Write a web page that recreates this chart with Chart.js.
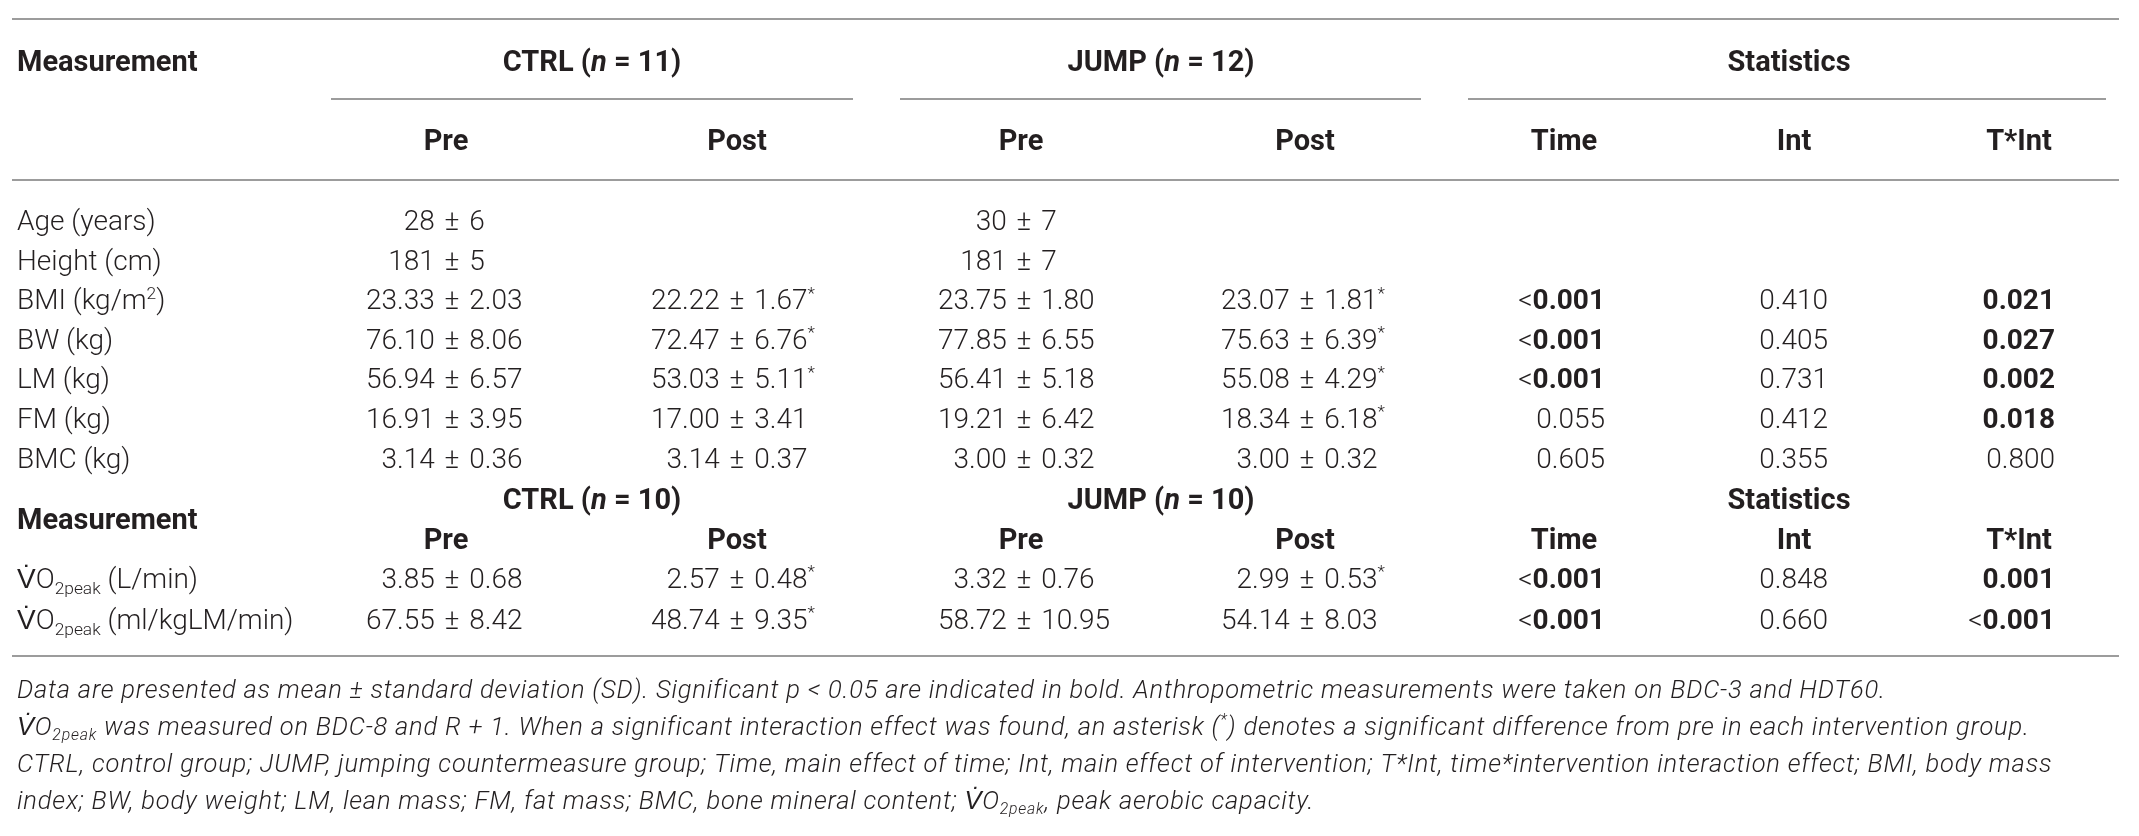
<!DOCTYPE html>
<html>
<head>
<meta charset="utf-8">
<script src="https://cdn.jsdelivr.net/npm/chart.js"></script>
<style>
  html, body { margin: 0; padding: 0; background: #fff; }
  #wrap { width: 2139px; height: 836px; }
</style>
</head>
<body>
<div id="wrap"><canvas id="table" width="2139" height="836"></canvas></div>
<script>
// Table contents (markup: {i:..} italic, {b:..} bold, {sub:..}, {sup:..})
const groupHeads1 = ['CTRL ({i:n} = 11)', 'JUMP ({i:n} = 12)', 'Statistics'];
const groupHeads2 = ['CTRL ({i:n} = 10)', 'JUMP ({i:n} = 10)', 'Statistics'];
const subHeads = ['Pre', 'Post', 'Pre', 'Post', 'Time', 'Int', 'T*Int'];

const rowLabels1 = ['Age (years)', 'Height (cm)', 'BMI (kg/m{sup:2})', 'BW (kg)', 'LM (kg)', 'FM (kg)', 'BMC (kg)'];
const ctrlPre1 = ['28 ± 6', '181 ± 5', '23.33 ± 2.03', '76.10 ± 8.06', '56.94 ± 6.57', '16.91 ± 3.95', '3.14 ± 0.36'];
const ctrlPost1 = ['', '', '22.22 ± 1.67*', '72.47 ± 6.76*', '53.03 ± 5.11*', '17.00 ± 3.41', '3.14 ± 0.37'];
const jumpPre1 = ['30 ± 7', '181 ± 7', '23.75 ± 1.80', '77.85 ± 6.55', '56.41 ± 5.18', '19.21 ± 6.42', '3.00 ± 0.32'];
const jumpPost1 = ['', '', '23.07 ± 1.81*', '75.63 ± 6.39*', '55.08 ± 4.29*', '18.34 ± 6.18*', '3.00 ± 0.32'];
const time1 = ['', '', '<0.001', '<0.001', '<0.001', '0.055', '0.605'];
const time1Bold = [false, false, true, true, true, false, false];
const int1 = ['', '', '0.410', '0.405', '0.731', '0.412', '0.355'];
const int1Bold = [false, false, false, false, false, false, false];
const tInt1 = ['', '', '0.021', '0.027', '0.002', '0.018', '0.800'];
const tInt1Bold = [false, false, true, true, true, true, false];

const rowLabels2 = ['V\u0307O{sub:2peak} (L/min)', 'V\u0307O{sub:2peak} (ml/kgLM/min)'];
const ctrlPre2 = ['3.85 ± 0.68', '67.55 ± 8.42'];
const ctrlPost2 = ['2.57 ± 0.48*', '48.74 ± 9.35*'];
const jumpPre2 = ['3.32 ± 0.76', '58.72 ± 10.95'];
const jumpPost2 = ['2.99 ± 0.53*', '54.14 ± 8.03'];
const time2 = ['<0.001', '<0.001'];
const time2Bold = [true, true];
const int2 = ['0.848', '0.660'];
const int2Bold = [false, false];
const tInt2 = ['0.001', '<0.001'];
const tInt2Bold = [true, true];

const footnotes = [
    'Data are presented as mean ± standard deviation (SD). Significant p < 0.05 are indicated in bold. Anthropometric measurements were taken on BDC-3 and HDT60.',
    'V\u0307O{sub:2peak} was measured on BDC-8 and R + 1. When a significant interaction effect was found, an asterisk ({sup:*}) denotes a significant difference from pre in each intervention group.',
    'CTRL, control group; JUMP, jumping countermeasure group; Time, main effect of time; Int, main effect of intervention; T*Int, time*intervention interaction effect; BMI, body mass',
    'index; BW, body weight; LM, lean mass; FM, fat mass; BMC, bone mineral content; V\u0307O{sub:2peak}, peak aerobic capacity.'
];

// Layout (in scale units = page pixels)
const W = 2139, H = 836;
const layout = {
    left: 12, right: 2119, labelX: 17,
    pm: [452, 737, 1024, 1307],
    pmGap: 3,
    statRight: [1605, 1828, 2055],
    subHead: [446, 737, 1021, 1305, 1564, 1794, 2019],
    group: [592, 1161, 1789],
    groupLines: [[331, 853], [900, 1421], [1468, 2106]],
    yTopRule: 19, yHead: 61, yGroupLine: 99, ySub: 140, yHeadRule: 180,
    yRows1: 220, rowStep1: 39.6,
    yGroup2: 499, yMeas2: 519, ySub2: 539,
    yRows2: 578, rowStep2: 41,
    yBottomRule: 656,
    yFoot: 689, footStep: 37
};

const TEXT = '#231f20';
const RULE = '#9c9c9c';
const FAMILY = 'Roboto, "Liberation Sans", sans-serif';
const BODY = { family: FAMILY, size: 28, weight: 300, italic: false, spacing: 0 };
const HEAD = { family: FAMILY, size: 29, weight: 700, italic: false, spacing: 0 };
const FOOT = { family: FAMILY, size: 25.5, weight: 300, italic: true, spacing: 0.8 };

function parseRich(s) {
    const out = [];
    const re = /\{(i|b|sub|sup):([^}]*)\}/g;
    let last = 0, m;
    while ((m = re.exec(s))) {
        if (m.index > last) out.push({ t: s.slice(last, m.index), k: '' });
        out.push({ t: m[2], k: m[1] });
        last = re.lastIndex;
    }
    if (last < s.length) out.push({ t: s.slice(last), k: '' });
    return out;
}

function segStyle(seg, base) {
    let size = base.size, weight = base.weight, italic = base.italic, dy = 0;
    if (seg.k === 'i') italic = true;
    if (seg.k === 'b') weight = 700;
    if (seg.k === 'sub') { size = base.size * 0.62; dy = base.size * 0.2; }
    if (seg.k === 'sup') { size = base.size * 0.62; dy = -base.size * 0.38; }
    return { font: (italic ? 'italic ' : '') + weight + ' ' + size + 'px ' + base.family, dy: dy };
}

function setFont(ctx, st, base) {
    ctx.font = st.font;
    ctx.letterSpacing = (base.spacing || 0) + 'px';
}

function richWidth(ctx, s, base) {
    return parseRich(s).reduce((w, seg) => {
        setFont(ctx, segStyle(seg, base), base);
        return w + ctx.measureText(seg.t).width;
    }, 0);
}

// y is the visual middle of the line; converted to a baseline
function drawRich(ctx, s, x, y, base, align) {
    const segs = parseRich(s);
    const w = richWidth(ctx, s, base);
    let cx = align === 'center' ? x - w / 2 : align === 'right' ? x - w : x;
    const baseline = y + base.size * 0.36;
    ctx.textAlign = 'left';
    ctx.textBaseline = 'alphabetic';
    segs.forEach(seg => {
        const st = segStyle(seg, base);
        setFont(ctx, st, base);
        ctx.fillText(seg.t, cx, baseline + st.dy);
        cx += ctx.measureText(seg.t).width;
    });
    ctx.letterSpacing = '0px';
}

// mean ± sd, aligned on the ± sign
function drawValue(ctx, s, anchor, y, gap) {
    if (!s) return;
    const parts = s.split(' ± ');
    let right = parts[1];
    if (right.endsWith('*')) right = right.slice(0, -1) + '{sup:*}';
    ctx.font = BODY.weight + ' ' + BODY.size + 'px ' + BODY.family;
    const half = ctx.measureText('±').width / 2;
    drawRich(ctx, parts[0] + ' ', anchor - half - gap, y, BODY, 'right');
    drawRich(ctx, '±', anchor, y, BODY, 'center');
    drawRich(ctx, ' ' + right, anchor + half + gap, y, BODY, 'left');
}

function statMarkup(s, bold) {
    if (!s || !bold) return s;
    return s.replace(/[\d.]+/, m => '{b:' + m + '}');
}

function hline(ctx, x0, x1, y) {
    ctx.beginPath();
    ctx.moveTo(x0, y);
    ctx.lineTo(x1, y);
    ctx.stroke();
}

const tablePlugin = {
    id: 'tableDraw',
    afterDraw(chart) {
        const ctx = chart.ctx;
        const sx = v => chart.scales.x.getPixelForValue(v);
        const sy = v => chart.scales.y.getPixelForValue(v);
        const L = layout;
        ctx.save();
        ctx.fillStyle = TEXT;
        ctx.strokeStyle = RULE;
        ctx.lineWidth = 2;

        // rules
        hline(ctx, sx(L.left), sx(L.right), sy(L.yTopRule));
        L.groupLines.forEach(g => hline(ctx, sx(g[0]), sx(g[1]), sy(L.yGroupLine)));
        hline(ctx, sx(L.left), sx(L.right), sy(L.yHeadRule));
        hline(ctx, sx(L.left), sx(L.right), sy(L.yBottomRule));

        // first header block
        drawRich(ctx, 'Measurement', sx(L.labelX), sy(L.yHead), HEAD, 'left');
        groupHeads1.forEach((g, i) => drawRich(ctx, g, sx(L.group[i]), sy(L.yHead), HEAD, 'center'));
        subHeads.forEach((h, i) => drawRich(ctx, h, sx(L.subHead[i]), sy(L.ySub), HEAD, 'center'));

        // body block 1
        const valueCols1 = [ctrlPre1, ctrlPost1, jumpPre1, jumpPost1];
        const statCols1 = [[time1, time1Bold], [int1, int1Bold], [tInt1, tInt1Bold]];
        rowLabels1.forEach((lab, r) => {
            const y = sy(L.yRows1 + r * L.rowStep1);
            drawRich(ctx, lab, sx(L.labelX), y, BODY, 'left');
            valueCols1.forEach((col, c) => drawValue(ctx, col[r], sx(L.pm[c]), y, L.pmGap));
            statCols1.forEach((sc, c) => {
                if (sc[0][r]) drawRich(ctx, statMarkup(sc[0][r], sc[1][r]), sx(L.statRight[c]), y, BODY, 'right');
            });
        });

        // second header block
        groupHeads2.forEach((g, i) => drawRich(ctx, g, sx(L.group[i]), sy(L.yGroup2), HEAD, 'center'));
        drawRich(ctx, 'Measurement', sx(L.labelX), sy(L.yMeas2), HEAD, 'left');
        subHeads.forEach((h, i) => drawRich(ctx, h, sx(L.subHead[i]), sy(L.ySub2), HEAD, 'center'));

        // body block 2
        const valueCols2 = [ctrlPre2, ctrlPost2, jumpPre2, jumpPost2];
        const statCols2 = [[time2, time2Bold], [int2, int2Bold], [tInt2, tInt2Bold]];
        rowLabels2.forEach((lab, r) => {
            const y = sy(L.yRows2 + r * L.rowStep2);
            drawRich(ctx, lab, sx(L.labelX), y, BODY, 'left');
            valueCols2.forEach((col, c) => drawValue(ctx, col[r], sx(L.pm[c]), y, L.pmGap));
            statCols2.forEach((sc, c) => {
                drawRich(ctx, statMarkup(sc[0][r], sc[1][r]), sx(L.statRight[c]), y, BODY, 'right');
            });
        });

        // footnotes
        footnotes.forEach((f, i) => drawRich(ctx, f, sx(L.labelX), sy(L.yFoot + i * L.footStep), FOOT, 'left'));

        ctx.restore();
    }
};

new Chart(document.getElementById('table').getContext('2d'), {
    type: 'scatter',
    data: { datasets: [] },
    options: {
        responsive: false,
        animation: false,
        devicePixelRatio: 1,
        events: [],
        layout: { padding: 0 },
        plugins: { legend: { display: false }, tooltip: { enabled: false } },
        scales: {
            x: { type: 'linear', display: false, min: 0, max: W },
            y: { type: 'linear', display: false, min: 0, max: H, reverse: true }
        }
    },
    plugins: [tablePlugin]
});
</script>
</body>
</html>
